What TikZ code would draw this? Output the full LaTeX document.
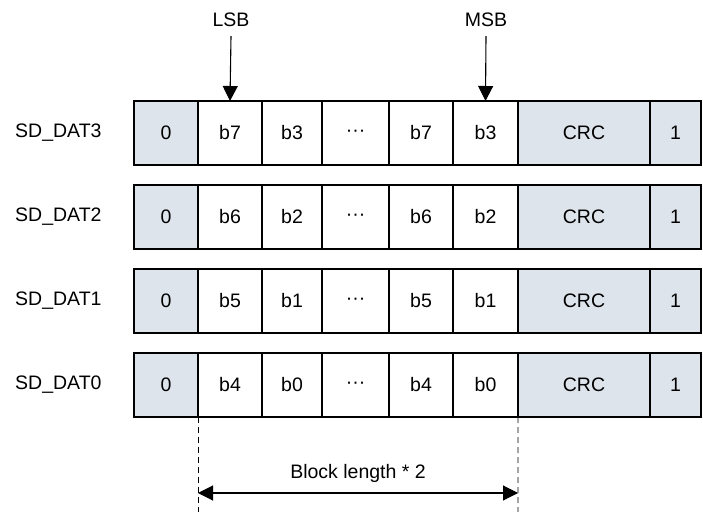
\documentclass[tikz,border=0pt]{standalone}
\usepackage{fontspec}
\setmainfont{Liberation Sans}
\usetikzlibrary{arrows.meta}
\definecolor{cellgray}{RGB}{222,228,236}
\tikzset{
	cell/.style={draw, line width=1.8bp, minimum height=64bp, inner sep=0pt,
		outer sep=0pt, anchor=north west, font=\fontsize{19.5bp}{23bp}\selectfont},
	lbl/.style={anchor=west, inner sep=0pt, font=\fontsize{19.5bp}{23bp}\selectfont},
	tip/.style={-{Triangle[width=15bp,length=15bp]}, line width=1.1bp},
	guide/.style={line width=0.9bp, dash pattern=on 6bp off 4bp},
}
\begin{document}
\begin{tikzpicture}[x=1bp,y=-1bp]
	\useasboundingbox (0,0) rectangle (703,512);
	% one row per data line
	\foreach \r/\a/\b/\d/\e [count=\i from 0] in {3/b7/b3/b7/b3, 2/b6/b2/b6/b2, 1/b5/b1/b5/b1, 0/b4/b0/b4/b0} {
		\pgfmathsetmacro{\y}{101+84*\i}
		\node[lbl] (n\r) at (15,\y+32) {SD\_DAT\r};
		\node[cell, fill=cellgray, minimum width=64bp] (s\r) at (134,\y) {0};
		\node[cell, minimum width=64bp] (a\r) at (198,\y) {\a};
		\node[cell, minimum width=60bp] (b\r) at (262,\y) {\b};
		\node[cell, minimum width=67bp] (c\r) at (322,\y) {···};
		\node[cell, minimum width=64bp] (d\r) at (389,\y) {\d};
		\node[cell, minimum width=65bp] (e\r) at (453,\y) {\e};
		\node[cell, fill=cellgray, minimum width=132bp] (crc\r) at (518,\y) {CRC};
		\node[cell, fill=cellgray, minimum width=51bp] (t\r) at (650,\y) {1};
	}
	% bit order
	\node[lbl, anchor=center] (lsb) at (231,20) {LSB};
	\node[lbl, anchor=center] (msb) at (486,20) {MSB};
	\draw[tip] (lsb.south) ++(0,9) -- (a3.north);
	\draw[tip] (msb.south) ++(0,9) -- (e3.north);
	% block length
	\coordinate (la) at (198,493);
	\coordinate (ra) at (518,493);
	\draw[guide] (a0.south west) -- (198,512);
	\draw[guide] (e0.south east) -- (518,512);
	\draw[{Triangle[width=15bp,length=15bp]}-{Triangle[width=15bp,length=15bp]}, line width=1.1bp]
		(la) -- node[lbl, anchor=south, yshift=10bp] {Block length * 2} (ra);
\end{tikzpicture}
\end{document}
